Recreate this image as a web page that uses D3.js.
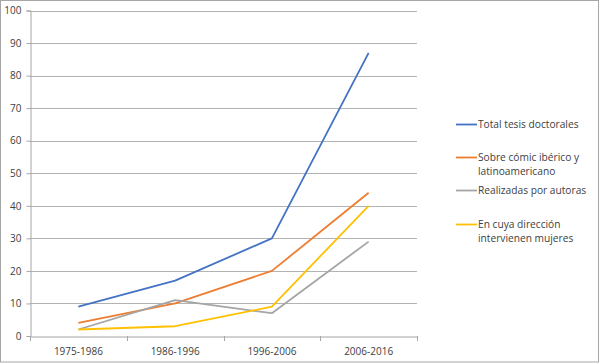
<!DOCTYPE html>
<html><head><meta charset="utf-8">
<script src="https://cdn.jsdelivr.net/npm/d3@7"></script>
<style>
html,body{margin:0;padding:0;background:#fff;}
text{font-family:"Open Sans","DejaVu Sans",sans-serif;}
</style></head>
<body>
<script>
const categories = ["1975-1986", "1986-1996", "1996-2006", "2006-2016"];
const seriesNames = [
  ["Total tesis doctorales"],
  ["Sobre cómic ibérico y", "latinoamericano"],
  ["Realizadas por autoras"],
  ["En cuya dirección", "intervienen mujeres"]
];
const totalTesis = [9, 17, 30, 87];
const sobreComic = [4, 10, 20, 44];
const autoras = [2, 11, 7, 29];
const direccionMujeres = [2, 3, 9, 40];
const yTicks = [0, 10, 20, 30, 40, 50, 60, 70, 80, 90, 100];
const colors = ["#4472C4", "#ED7D31", "#A5A5A5", "#FFC000"];

const series = [totalTesis, sobreComic, autoras, direccionMujeres];

const W = 600, H = 363;
const svg = d3.select("body").append("svg").attr("width", W).attr("height", H);

// outer border
svg.append("rect").attr("x", 0.5).attr("y", 0.5).attr("width", W - 2).attr("height", H - 1.5)
  .attr("fill", "#fff").attr("stroke", "#a6a6a6").attr("stroke-width", 1);

const pLeft = 30, pRight = 417, pTop = 10.5, pBottom = 336;
const x = d3.scaleBand().domain(categories).range([pLeft, pRight]);
const y = d3.scaleLinear().domain([0, 100]).range([pBottom, pTop]);

// gridlines
svg.append("g").selectAll("line").data(yTicks.filter(d => d > 0)).join("line")
  .attr("x1", pLeft).attr("x2", pRight)
  .attr("y1", d => Math.round(y(d)) + 0.5).attr("y2", d => Math.round(y(d)) + 0.5)
  .attr("stroke", "#b3b3b3").attr("stroke-width", 1);

// y axis
const yAxis = svg.append("g").attr("transform", `translate(${pLeft + 0.5},0)`)
  .call(d3.axisLeft(y).tickValues(yTicks).tickSize(4).tickPadding(5));
yAxis.select(".domain").attr("stroke", "#a6a6a6");
yAxis.selectAll(".tick line").attr("stroke", "#a6a6a6");
yAxis.selectAll(".tick text").attr("fill", "#404040").attr("font-size", 10)
  .attr("font-family", "'Open Sans', sans-serif");

// x axis
const xAxis = svg.append("g").attr("transform", `translate(0,${Math.round(pBottom) + 0.5})`)
  .call(d3.axisBottom(x).tickSize(0).tickPadding(11));
xAxis.select(".domain").attr("stroke", "#a6a6a6");
xAxis.selectAll(".tick text").attr("fill", "#404040").attr("font-size", 10)
  .attr("font-family", "'Open Sans', sans-serif");
// category boundary ticks
const bounds = categories.map(c => x(c)).concat([x(categories[categories.length - 1]) + x.bandwidth()]);
svg.append("g").selectAll("line").data(bounds).join("line")
  .attr("x1", d => Math.round(d) + 0.5).attr("x2", d => Math.round(d) + 0.5)
  .attr("y1", Math.round(pBottom)).attr("y2", Math.round(pBottom) + 5)
  .attr("stroke", "#a6a6a6");

// lines
const line = d3.line().x((d, i) => x(categories[i]) + x.bandwidth() / 2).y(d => y(d));
svg.append("g").selectAll("path").data(series).join("path")
  .attr("d", d => line(d)).attr("fill", "none")
  .attr("stroke", (d, i) => colors[i]).attr("stroke-width", 1.8)
  .attr("stroke-linejoin", "round");

// legend
const legendY = [124.5, 157.5, 190.5, 224.5];
const lg = svg.append("g");
seriesNames.forEach((names, i) => {
  lg.append("line").attr("x1", 456).attr("x2", 477)
    .attr("y1", legendY[i]).attr("y2", legendY[i])
    .attr("stroke", colors[i]).attr("stroke-width", 1.8);
  names.forEach((t, j) => {
    lg.append("text").attr("x", 478).attr("y", legendY[i] + 3.8 + j * 13.5)
      .attr("font-size", 10.2).attr("fill", "#404040").text(t);
  });
});
</script>
</body></html>
